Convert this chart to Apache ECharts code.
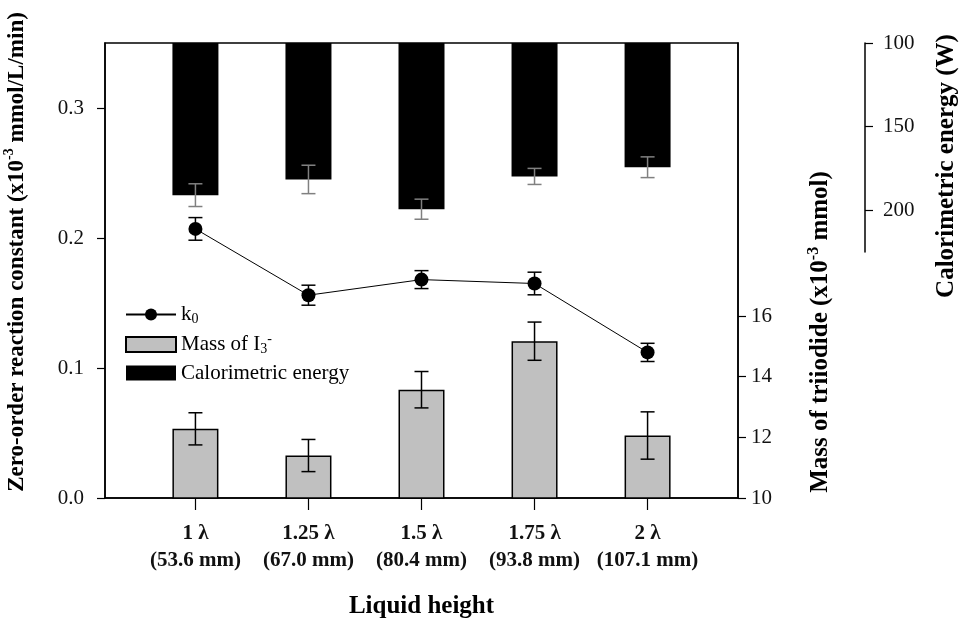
<!DOCTYPE html>
<html><head><meta charset="utf-8">
<script src="https://cdn.jsdelivr.net/npm/echarts@6/dist/echarts.min.js"></script>
<style>html,body{margin:0;padding:0;background:#fff}#c{width:974px;height:627px}</style>
</head><body><div id="c"></div>
<script>
const heights = [1, 1.25, 1.5, 1.75, 2];
const heightLabels = ['1 λ', '1.25 λ', '1.5 λ', '1.75 λ', '2 λ'];
const heightMm = ['(53.6 mm)', '(67.0 mm)', '(80.4 mm)', '(93.8 mm)', '(107.1 mm)'];
const k0 = [0.207, 0.156, 0.168, 0.165, 0.112];
const k0Err = [0.0087, 0.0077, 0.0069, 0.0087, 0.0070];
const mass = [12.28, 11.40, 13.57, 15.17, 12.06];
const massErr = [0.53, 0.53, 0.60, 0.63, 0.78];
const energy = [191.0, 181.6, 199.4, 179.8, 174.3];
const energyErr = [6.8, 8.5, 6.0, 4.8, 6.2];
const leftTicks = [0, 0.1, 0.2, 0.3];
const massTicks = [10, 12, 14, 16];
const energyTicks = [100, 150, 200];

const FF = "'Liberation Serif', 'Times New Roman', serif";
const pairs = (ys) => heights.map((x, i) => [x, ys[i]]);
const errData = (ys, es) => heights.map((x, i) => [x, ys[i] - es[i], ys[i] + es[i]]);
function errRender(color, half, width) {
  return function (params, api) {
    const x = api.value(0);
    const a = api.coord([x, api.value(1)]);
    const b = api.coord([x, api.value(2)]);
    const st = { stroke: color, lineWidth: width };
    return { type: 'group', children: [
      { type: 'line', shape: { x1: a[0], y1: a[1], x2: b[0], y2: b[1] }, style: st },
      { type: 'line', shape: { x1: a[0] - half, y1: a[1], x2: a[0] + half, y2: a[1] }, style: st },
      { type: 'line', shape: { x1: b[0] - half, y1: b[1], x2: b[0] + half, y2: b[1] }, style: st }
    ]};
  };
}
function titleRich(size) {
  return {
    b: { fontFamily: FF, fontWeight: 'bold', fontSize: size, lineHeight: size + 6, color: '#000' },
    s: { fontFamily: FF, fontWeight: 'bold', fontSize: Math.round(size * 0.62), lineHeight: Math.round(size * 0.62), verticalAlign: 'top', color: '#000' }
  };
}
const tickFont = { fontFamily: FF, fontSize: 21, color: '#111' };

const chart = echarts.init(document.getElementById('c'), null, { renderer: 'canvas' });
chart.setOption({
  animation: false,
  backgroundColor: '#fff',
  grid: [
    { left: 105, right: 236, top: 43, bottom: 129, containLabel: false, outerBoundsMode: 'none',
      show: true, borderColor: '#000', borderWidth: 1.5, backgroundColor: 'transparent' },
    { left: 105, right: 236, top: 43, height: 209, containLabel: false, outerBoundsMode: 'none', show: false }
  ],
  xAxis: [
    { type: 'value', gridIndex: 0, min: 0.8, max: 2.2,
      name: 'Liquid height', nameLocation: 'middle', nameGap: 96,
      nameTextStyle: { fontFamily: FF, fontWeight: 'bold', fontSize: 25, color: '#000' },
      axisLine: { show: true, lineStyle: { color: '#000', width: 1.5 } },
      axisTick: { show: true, customValues: heights, length: 12, lineStyle: { color: '#000', width: 1.2 } },
      axisLabel: { customValues: heights, margin: 22, fontFamily: FF, fontWeight: 'bold', fontSize: 21, lineHeight: 27, color: '#111',
        formatter: (v) => { const i = heights.findIndex(h => Math.abs(h - v) < 1e-6); return i < 0 ? '' : heightLabels[i] + '\n' + heightMm[i]; } },
      splitLine: { show: false } },
    { type: 'value', gridIndex: 1, min: 0.8, max: 2.2, show: false }
  ],
  yAxis: [
    { type: 'value', gridIndex: 0, min: 0, max: 0.35, position: 'left',
      axisLine: { show: true, lineStyle: { color: '#000', width: 1.5 } },
      axisTick: { show: true, customValues: leftTicks, length: 8, inside: false, lineStyle: { color: '#000', width: 1.2 } },
      axisLabel: Object.assign({ customValues: leftTicks, margin: 21, formatter: (v) => v.toFixed(1) }, tickFont),
      splitLine: { show: false } },
    { type: 'value', gridIndex: 0, min: 10, max: 25, interval: 1, position: 'right',
      axisLine: { show: true, lineStyle: { color: '#000', width: 1.5 } },
      axisTick: { show: true, customValues: massTicks, length: 8, lineStyle: { color: '#000', width: 1.2 } },
      axisLabel: Object.assign({ customValues: massTicks, margin: 13 }, tickFont),
      splitLine: { show: false } },
    { type: 'value', gridIndex: 1, min: 100, max: 225, inverse: true, position: 'right', offset: 127, startValue: 100,
      axisLine: { show: true, onZero: false, lineStyle: { color: '#000', width: 1.5 } },
      axisTick: { show: true, customValues: energyTicks, length: 8, lineStyle: { color: '#000', width: 1.2 } },
      axisLabel: Object.assign({ customValues: energyTicks, margin: 18 }, tickFont),
      splitLine: { show: false } }
  ],
  legend: {
    orient: 'vertical', left: 120, top: 299, itemWidth: 50, itemHeight: 15, itemGap: 6,
    data: [{ name: 'k0' }, { name: 'Mass', icon: 'rect' }, { name: 'Calorimetric energy', icon: 'rect' }],
    textStyle: { fontFamily: FF, fontSize: 21, color: '#000',
      rich: {
        a: { fontFamily: FF, fontSize: 21, lineHeight: 24, color: '#000' },
        sub: { fontFamily: FF, fontSize: 14, lineHeight: 14, verticalAlign: 'bottom', color: '#000' },
        sup: { fontFamily: FF, fontSize: 14, lineHeight: 14, verticalAlign: 'top', color: '#000' }
      } },
    formatter: (n) => n === 'k0' ? '{a|k}{sub|0}' : (n === 'Mass' ? '{a|Mass of I}{sub|3}{sup|-}' : '{a|Calorimetric energy}')
  },
  graphic: [
    { type: 'text', x: 17, y: 252, rotation: Math.PI / 2,
      style: { text: '{b|Zero-order reaction constant (x10}{s|-3}{b| mmol/L/min)}', rich: titleRich(23), align: 'center', verticalAlign: 'middle' } },
    { type: 'text', x: 821, y: 332, rotation: Math.PI / 2,
      style: { text: '{b|Mass of triiodide (x10}{s|-3}{b| mmol)}', rich: titleRich(25), align: 'center', verticalAlign: 'middle' } },
    { type: 'text', x: 947, y: 166, rotation: Math.PI / 2,
      style: { text: '{b|Calorimetric energy (W)}', rich: titleRich(25), align: 'center', verticalAlign: 'middle' } }
  ],
  series: [
    { name: 'Mass', type: 'bar', xAxisIndex: 0, yAxisIndex: 1, barWidth: 46, data: pairs(mass),
      itemStyle: { color: '#c0c0c0', borderColor: '#000', borderWidth: 1.5 }, z: 2 },
    { name: 'massErr', type: 'custom', xAxisIndex: 0, yAxisIndex: 1, data: errData(mass, massErr),
      renderItem: errRender('#000', 7, 1.5), z: 3 },
    { name: 'Calorimetric energy', type: 'bar', xAxisIndex: 1, yAxisIndex: 2, barWidth: 46, data: pairs(energy),
      itemStyle: { color: '#000' }, z: 2 },
    { name: 'energyErr', type: 'custom', xAxisIndex: 1, yAxisIndex: 2, data: errData(energy, energyErr),
      renderItem: errRender('#808080', 7, 1.5), z: 3 },
    { name: 'k0err', type: 'custom', xAxisIndex: 0, yAxisIndex: 0, data: errData(k0, k0Err),
      renderItem: errRender('#000', 7, 1.5), z: 4 },
    { name: 'k0', type: 'line', xAxisIndex: 0, yAxisIndex: 0, data: pairs(k0),
      symbol: 'circle', symbolSize: 14, lineStyle: { color: '#000', width: 1 },
      itemStyle: { color: '#000' }, z: 5 }
  ]
});
</script></body></html>
